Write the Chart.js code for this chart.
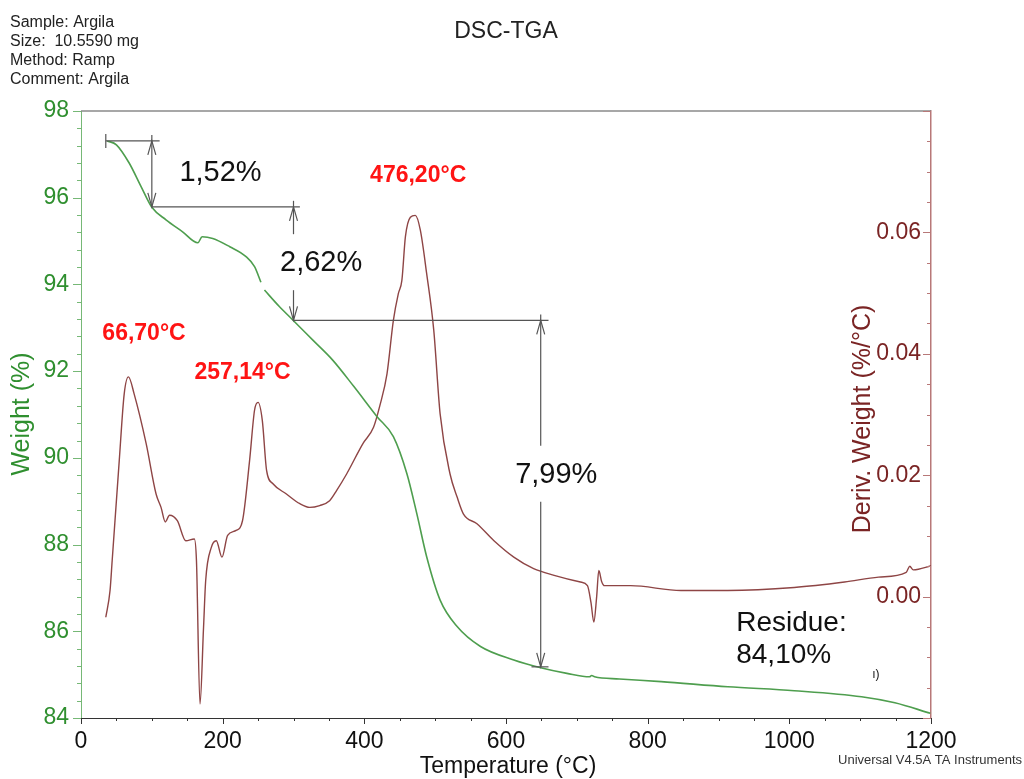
<!DOCTYPE html>
<html>
<head>
<meta charset="utf-8">
<script src="https://cdn.jsdelivr.net/npm/chart.js@4.4.0/dist/chart.umd.min.js"></script>
<style>
  html, body { margin: 0; padding: 0; background: #fff; }
  #wrap { width: 1024px; height: 779px; }
</style>
</head>
<body>
<div id="wrap"><canvas id="chart" width="1024" height="779"></canvas></div>
<script>
// TGA weight curve (left axis, %)
const tgaTemp = [37, 50, 68, 85, 100, 120, 143, 165, 171, 186, 210, 233, 245, 254, 257, 259, 280, 299, 327, 355, 385, 418, 441, 460, 474, 488, 507, 531, 564, 611, 649, 686, 718, 721, 725, 760, 819, 913, 1007, 1102, 1149, 1199];
const tgaWeight = [97.31, 97.22, 96.80, 96.25, 95.78, 95.49, 95.22, 94.96, 95.10, 95.06, 94.87, 94.64, 94.41, 94.05, null, 93.87, 93.49, 93.18, 92.72, 92.26, 91.65, 90.95, 90.49, 89.64, 88.72, 87.72, 86.72, 86.11, 85.65, 85.34, 85.16, 85.03, 84.95, 84.98, 84.95, 84.90, 84.84, 84.72, 84.63, 84.49, 84.35, 84.11];

// derivative weight curve (right axis, %/°C)
const dtgTemp = [35, 41, 44, 54, 61, 67, 75, 92, 106, 113, 119, 125, 136, 148, 160, 163, 168, 173, 176, 184, 191, 199, 207, 219, 228, 238, 245, 250, 256, 262, 271, 290, 309, 323, 337, 351, 361, 375, 398, 413, 422, 432, 441, 448, 453, 458, 465, 472, 479, 488, 498, 507, 521, 531, 540, 559, 583, 611, 639, 668, 705, 715, 720, 724, 728, 731, 735, 739, 776, 847, 913, 1007, 1078, 1126, 1165, 1170, 1175, 1201];
const dtgValue = [-0.0034, 0.0010, 0.0059, 0.0224, 0.0334, 0.0362, 0.0334, 0.0252, 0.0169, 0.0147, 0.0123, 0.0134, 0.0125, 0.0092, 0.0095, 0.0059, -0.0177, -0.0051, 0.0026, 0.0081, 0.0092, 0.0065, 0.0101, 0.0109, 0.0125, 0.0224, 0.0307, 0.0320, 0.0290, 0.0208, 0.0186, 0.0169, 0.0153, 0.0147, 0.0150, 0.0158, 0.0175, 0.0202, 0.0252, 0.0279, 0.0315, 0.0367, 0.0455, 0.0499, 0.0521, 0.0593, 0.0625, 0.0628, 0.0604, 0.0532, 0.0439, 0.0301, 0.0202, 0.0164, 0.0136, 0.0120, 0.0092, 0.0065, 0.0046, 0.0035, 0.0024, 0.0018, -0.0010, -0.0042, 0.0000, 0.0043, 0.0025, 0.0018, 0.0018, 0.0010, 0.0010, 0.0015, 0.0024, 0.0032, 0.0040, 0.0050, 0.0044, 0.0051];

// right axis labels
const derivTicks = [0.00, 0.02, 0.04, 0.06];

// weight-loss steps
const stepLevels = [97.31, 95.79, 93.17, 85.18];
const levelFrom = [35, 100, 299, 636];
const levelTo = [111, 309, 660, 660];
const stepTemps = [100, 300, 649];
const stepLabels = ['1,52%', '2,62%', '7,99%'];
const stepLabelT = [197, 339, 671];
const stepLabelW = [96.57, 94.49, 89.61];

// peak labels
const peakLabels = ['66,70°C', '257,14°C', '476,20°C'];
const peakLabelT = [89, 228, 476];
const peakLabelD = [0.0434, 0.0369, 0.0693];

const headerLines = ['Sample: Argila', 'Size:  10.5590 mg', 'Method: Ramp', 'Comment: Argila'];

const FONT = '"Liberation Sans", Arial, Helvetica, sans-serif';
const GREEN_LINE = '#4e9e4e';
const GREEN_TXT = '#2f8f2f';
const GREEN_AXIS = '#76b876';
const BROWN_LINE = '#8e4545';
const BROWN_TXT = '#7a2424';
const BROWN_AXIS = '#b87878';
const ANNO = '#555555';

function arrowHead(c, x, y, dir) {
    // tip at (x, y); dir -1 points up, +1 points down
    c.beginPath();
    c.moveTo(x - 4, y - dir * 14);
    c.lineTo(x, y);
    c.lineTo(x + 4, y - dir * 14);
    c.stroke();
}

function vline(c, x, y1, y2) {
    c.beginPath();
    c.moveTo(x, y1);
    c.lineTo(x, y2);
    c.stroke();
}

function hline(c, x1, x2, y) {
    c.beginPath();
    c.moveTo(x1, y);
    c.lineTo(x2, y);
    c.stroke();
}

const decor = {
    id: 'decor',
    afterDraw(chart) {
        const c = chart.ctx;
        const a = chart.chartArea;
        const xs = chart.scales.x, ys = chart.scales.y, y1 = chart.scales.y1;
        c.save();

        // top frame line
        c.lineWidth = 1.5;
        c.strokeStyle = '#8a8a8a';
        hline(c, a.left, a.right, a.top);

        // tick marks
        c.lineWidth = 1;
        c.strokeStyle = '#333';
        for (let t = 0; t <= 1200; t += 50) {
            const px = Math.round(xs.getPixelForValue(t)) + 0.5;
            vline(c, px, a.bottom, a.bottom + (t % 200 === 0 ? 6 : 3));
        }
        c.strokeStyle = GREEN_AXIS;
        for (let i = 0; i <= 35; i++) {
            const v = 84 + i * 0.4;
            const py = Math.round(ys.getPixelForValue(v)) + 0.5;
            hline(c, a.left - (i % 5 === 0 ? 8 : 4), a.left, py);
        }
        c.strokeStyle = BROWN_AXIS;
        for (let i = 0; i <= 20; i++) {
            const v = -0.02 + i * 0.005;
            const py = Math.round(y1.getPixelForValue(v)) + 0.5;
            hline(c, a.right - (i % 4 === 0 ? 8 : 4), a.right, py);
        }

        // right axis labels, inside the plot
        c.font = '23px ' + FONT;
        c.fillStyle = BROWN_TXT;
        c.textAlign = 'right';
        c.textBaseline = 'middle';
        derivTicks.forEach(v => c.fillText(v.toFixed(2), a.right - 10, y1.getPixelForValue(v)));

        // weight-loss step annotations
        c.strokeStyle = ANNO;
        c.lineWidth = 1.2;
        stepLevels.forEach((w, i) => {
            hline(c, xs.getPixelForValue(levelFrom[i]), xs.getPixelForValue(levelTo[i]), ys.getPixelForValue(w));
        });
        const x0 = xs.getPixelForValue(levelFrom[0]);
        const yl0 = ys.getPixelForValue(stepLevels[0]);
        vline(c, x0, yl0 - 7, yl0 + 7);

        c.font = '29px ' + FONT;
        c.textAlign = 'center';
        c.fillStyle = '#111';
        stepTemps.forEach((t, i) => {
            const px = xs.getPixelForValue(t);
            const top = ys.getPixelForValue(stepLevels[i]);
            const bot = ys.getPixelForValue(stepLevels[i + 1]);
            const lx = xs.getPixelForValue(stepLabelT[i]);
            const ly = ys.getPixelForValue(stepLabelW[i]);
            const tw = c.measureText(stepLabels[i]).width;
            if (px > lx - tw / 2 && px < lx + tw / 2) {
                vline(c, px, top - 6, ly - 29);
                vline(c, px, ly + 27, bot);
            } else {
                vline(c, px, top - 6, bot);
            }
            arrowHead(c, px, top, -1);
            arrowHead(c, px, bot, 1);
            c.fillText(stepLabels[i], lx, ly);
        });

        // residue text
        c.font = '28px ' + FONT;
        c.textAlign = 'left';
        c.fillText('Residue:', xs.getPixelForValue(925), ys.getPixelForValue(86.19));
        c.fillText('84,10%', xs.getPixelForValue(925), ys.getPixelForValue(85.45));
        c.font = '12px ' + FONT;
        c.fillText('ı)', xs.getPixelForValue(1117), ys.getPixelForValue(84.99));

        // peak labels
        c.font = 'bold 23px ' + FONT;
        c.textAlign = 'center';
        c.fillStyle = '#ff1414';
        peakLabels.forEach((s, i) => {
            c.fillText(s, xs.getPixelForValue(peakLabelT[i]), y1.getPixelForValue(peakLabelD[i]));
        });

        // header and titles
        c.fillStyle = '#222';
        c.textAlign = 'left';
        c.textBaseline = 'alphabetic';
        c.font = '16px ' + FONT;
        headerLines.forEach((s, i) => c.fillText(s, 10, 26.5 + i * 19));

        c.textBaseline = 'middle';
        c.textAlign = 'center';
        c.font = '23px ' + FONT;
        c.fillText('DSC-TGA', 506, 32);

        c.fillStyle = '#111';
        c.fillText('Temperature (°C)', (a.left + a.right) / 2 + 2, 767);

        c.font = '13px ' + FONT;
        c.fillStyle = '#333';
        c.textAlign = 'right';
        c.fillText('Universal V4.5A TA Instruments', 1022, 760);

        c.font = '25px ' + FONT;
        c.textAlign = 'center';
        c.save();
        c.translate(22, 414);
        c.rotate(-Math.PI / 2);
        c.fillStyle = GREEN_TXT;
        c.fillText('Weight (%)', 0, 0);
        c.restore();

        c.save();
        c.translate(863, 419);
        c.rotate(-Math.PI / 2);
        c.fillStyle = BROWN_TXT;
        c.fillText('Deriv. Weight (%/°C)', 0, 0);
        c.restore();

        c.restore();
    }
};

const ctx = document.getElementById('chart').getContext('2d');
new Chart(ctx, {
    type: 'line',
    data: {
        datasets: [{
            label: 'Weight (%)',
            data: tgaTemp.map((t, i) => ({ x: t, y: tgaWeight[i] })),
            yAxisID: 'y',
            borderColor: GREEN_LINE,
            borderWidth: 1.6,
            pointRadius: 0,
            cubicInterpolationMode: 'monotone',
            spanGaps: false
        }, {
            label: 'Deriv. Weight (%/°C)',
            data: dtgTemp.map((t, i) => ({ x: t, y: dtgValue[i] })),
            yAxisID: 'y1',
            borderColor: BROWN_LINE,
            borderWidth: 1.4,
            pointRadius: 0,
            cubicInterpolationMode: 'monotone'
        }]
    },
    options: {
        responsive: false,
        animation: false,
        devicePixelRatio: 1,
        layout: { padding: { top: 111, left: 0, right: 0, bottom: 0 } },
        plugins: {
            legend: { display: false },
            tooltip: { enabled: false }
        },
        scales: {
            x: {
                type: 'linear',
                min: 0,
                max: 1200,
                ticks: { stepSize: 200, color: '#111', font: { size: 23, family: FONT }, padding: 2, maxRotation: 0, callback: v => String(v) },
                grid: { display: false },
                border: { display: true, color: '#333', width: 1 },
                afterFit: s => { s.height = 61; }
            },
            y: {
                position: 'left',
                min: 84,
                max: 98,
                ticks: { stepSize: 2, color: GREEN_TXT, font: { size: 23, family: FONT }, padding: 4 },
                grid: { display: false },
                border: { display: true, color: GREEN_AXIS, width: 1 },
                afterFit: s => { s.width = 81; }
            },
            y1: {
                position: 'right',
                min: -0.02,
                max: 0.08,
                ticks: { display: false },
                grid: { display: false },
                border: { display: true, color: BROWN_AXIS, width: 1.5 },
                afterFit: s => { s.width = 93; }
            }
        }
    },
    plugins: [decor]
});
</script>
</body>
</html>
